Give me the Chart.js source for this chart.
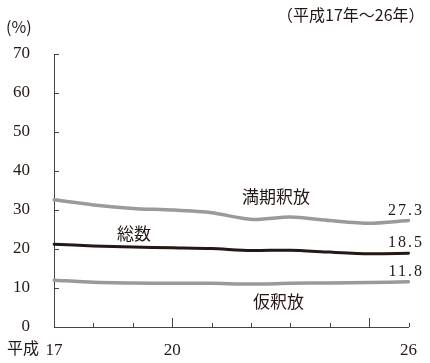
<!DOCTYPE html>
<html>
<head>
<meta charset="utf-8">
<script src="https://cdn.jsdelivr.net/npm/chart.js@4/dist/chart.umd.min.js"></script>
<style>
  html, body { margin: 0; padding: 0; background: #fff; }
  #wrap { width: 430px; height: 363px; position: relative; }
</style>
</head>
<body>
<div id="wrap"><canvas id="graficoShakuho" width="430" height="363"></canvas></div>
<script>
// 平成17年～26年
var anos = ['17', '18', '19', '20', '21', '22', '23', '24', '25', '26'];
var anosVisiveis = ['17', '20', '26'];
var anosMaiores = ['20', '25'];

var manki = [32.6, 31.3, 30.4, 30.0, 29.3, 27.6, 28.2, 27.3, 26.6, 27.3];
var sosu = [21.2, 20.8, 20.5, 20.3, 20.1, 19.6, 19.7, 19.2, 18.8, 18.9];
var karishaku = [12.0, 11.5, 11.3, 11.2, 11.2, 11.0, 11.2, 11.3, 11.4, 11.6];

var valoresFinais = ['27.3', '18.5', '11.8'];
var yMin = 0, yMax = 70, yPasso = 10;

var fonteSerif = '"Liberation Serif", "DejaVu Serif", "Noto Sans CJK JP", serif';
var fonteJp = '"Noto Sans CJK JP", "Liberation Serif", serif';
var corEixo = '#444';

var marcasPlugin = {
    id: 'marcas',
    afterDraw: function(chart) {
        var ctx = chart.ctx;
        var x = chart.scales.x, y = chart.scales.y;
        var area = chart.chartArea;

        ctx.save();
        ctx.strokeStyle = corEixo;
        ctx.lineWidth = 1;
        // y ticks point into the plot
        for (var v = yMin; v <= yMax; v += yPasso) {
            var py = Math.round(y.getPixelForValue(v)) + 0.5;
            ctx.beginPath();
            ctx.moveTo(area.left, py);
            ctx.lineTo(area.left + 5, py);
            ctx.stroke();
        }
        // x ticks point up
        anos.forEach(function(ano, i) {
            if (i === 0) return;
            var px = Math.round(x.getPixelForValue(i)) + 0.5;
            var comp = anosMaiores.indexOf(ano) >= 0 ? 9 : 4;
            ctx.beginPath();
            ctx.moveTo(px, area.bottom);
            ctx.lineTo(px, area.bottom - comp);
            ctx.stroke();
        });

        ctx.fillStyle = '#231815';
        ctx.textBaseline = 'middle';

        ctx.font = '16px ' + fonteJp;
        ctx.textAlign = 'left';
        ctx.fillText('(%)', 6, 27);
        ctx.fillText('平成', 7, 348);
        ctx.fillText('（平成17年～26年）', 277, 15);

        ctx.font = '17px ' + fonteJp;
        ctx.fillText('満期釈放', 242, 197);
        ctx.fillText('総数', 117, 234);
        ctx.fillText('仮釈放', 253, 302);

        // end values
        ctx.font = '16px ' + fonteSerif;
        ctx.textAlign = 'right';
        ctx.letterSpacing = '2px';
        var series = [manki, sosu, karishaku];
        series.forEach(function(s, i) {
            var py = y.getPixelForValue(s[s.length - 1]) - 10;
            ctx.fillText(valoresFinais[i], 424, py);
        });
        ctx.restore();
    }
};

var grafico = new Chart(document.getElementById('graficoShakuho').getContext('2d'), {
    type: 'line',
    data: {
        labels: anos,
        datasets: [{
            label: '満期釈放',
            data: manki,
            borderColor: '#9a9a9a',
            borderWidth: 3.5,
        },
        {
            label: '総数',
            data: sosu,
            borderColor: '#231815',
            borderWidth: 3,
        },
        {
            label: '仮釈放',
            data: karishaku,
            borderColor: '#9a9a9a',
            borderWidth: 3.5,
        }],
    },
    options: {
        responsive: false,
        animation: false,
        events: [],
        layout: { padding: { left: 0, right: 21, top: 54, bottom: 0 } },
        elements: {
            point: { radius: 0 },
            line: { tension: 0.25, borderCapStyle: 'round', borderJoinStyle: 'round' },
        },
        plugins: { legend: { display: false }, tooltip: { enabled: false } },
        scales: {
            x: {
                offset: false,
                grid: { display: false, drawTicks: false },
                border: { display: true, color: corEixo, width: 1 },
                afterFit: function(scale) { scale.height = 36; },
                ticks: {
                    autoSkip: false,
                    maxRotation: 0,
                    padding: 13,
                    color: '#231815',
                    font: { family: fonteSerif, size: 17 },
                    callback: function(v) {
                        var ano = anos[v];
                        return anosVisiveis.indexOf(ano) >= 0 ? ano : '';
                    },
                },
            },
            y: {
                min: yMin,
                max: yMax,
                grid: { display: false, drawTicks: false },
                border: { display: true, color: corEixo, width: 1 },
                afterFit: function(scale) { scale.width = 54; },
                ticks: {
                    stepSize: yPasso,
                    padding: 24,
                    color: '#231815',
                    font: { family: fonteSerif, size: 17 },
                },
            },
        },
    },
    plugins: [marcasPlugin],
});
</script>
</body>
</html>
